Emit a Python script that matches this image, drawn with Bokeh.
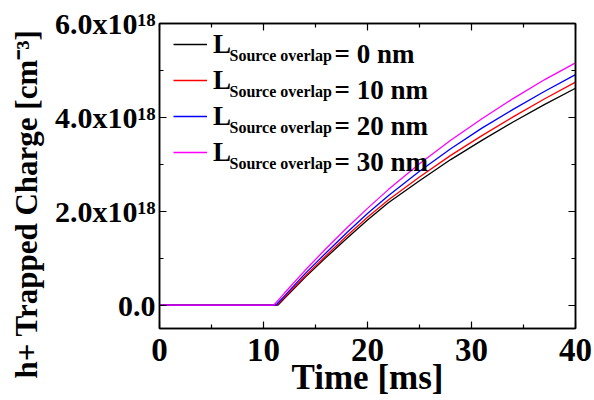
from bokeh.plotting import figure
from bokeh.models import (Range1d, LinearAxis, FixedTicker, Label, Legend,
                          LegendItem, CustomJSTickFormatter, Title)
from bokeh.embed import file_html
from bokeh.resources import INLINE

# Time axis [ms] shared by all curves
time_ms = [0, 11.0, 11.2, 11.4, 12, 14, 16, 18, 20, 22, 25, 28, 31, 34, 37, 40]

# Trapped hole charge in units of 1e18 cm^-3
charge_0nm = [0, 0, 0, 0, 0.14, 0.59, 1.01, 1.42, 1.81, 2.18, 2.65, 3.10, 3.51, 3.90, 4.27, 4.62]
charge_10nm = [0, 0, 0, 0.02, 0.16, 0.62, 1.05, 1.47, 1.87, 2.24, 2.73, 3.19, 3.61, 4.01, 4.39, 4.75]
charge_20nm = [0, 0, 0, 0.05, 0.19, 0.67, 1.11, 1.54, 1.95, 2.33, 2.85, 3.33, 3.77, 4.17, 4.55, 4.91]
charge_30nm = [0, 0, 0.05, 0.10, 0.25, 0.74, 1.20, 1.64, 2.06, 2.46, 3.01, 3.51, 3.97, 4.40, 4.80, 5.16]

overlaps = ["0", "10", "20", "30"]
colors = ["black", "red", "blue", "magenta"]

x_ticks = [0, 10, 20, 30, 40]
x_minor = [5, 15, 25, 35]
y_ticks = [0, 2, 4, 6]
y_minor = [1, 3, 5]
y_tick_text = ["0.0", "2.0x10\u00b9\u2078", "4.0x10\u00b9\u2078", "6.0x10\u00b9\u2078"]

x_title = "Time [ms]"
y_title = "h+ Trapped Charge [cm\u207b\u00b3]"

FONT = "Liberation Serif"

p = figure(frame_width=416, frame_height=305,
           min_border_left=159, min_border_right=19,
           min_border_top=23, min_border_bottom=72,
           x_range=Range1d(0, 40), y_range=Range1d(-0.5, 6.0),
           output_backend="svg", toolbar_location=None,
           x_axis_location=None, y_axis_location=None)
p.background_fill_color = "white"
p.border_fill_color = "white"
p.xgrid.visible = False
p.ygrid.visible = False
p.outline_line_color = "black"
p.outline_line_width = 1.5


def make_axis(ticks, minor):
    ax = LinearAxis(ticker=FixedTicker(ticks=ticks, minor_ticks=minor))
    ax.axis_line_color = "black"
    ax.axis_line_width = 1.5
    ax.major_tick_in = 7
    ax.major_tick_out = 0
    ax.minor_tick_in = 4
    ax.minor_tick_out = 0
    ax.major_tick_line_width = 1.2
    ax.minor_tick_line_width = 1.2
    ax.major_label_text_font = FONT
    ax.major_label_text_font_style = "bold"
    ax.major_label_text_color = "black"
    ax.axis_label_text_font = FONT
    ax.axis_label_text_font_style = "bold"
    ax.axis_label_text_color = "black"
    return ax


def bare_axis(ticks, minor):
    ax = make_axis(ticks, minor)
    ax.formatter = CustomJSTickFormatter(code="return ''")
    ax.major_label_standoff = 0
    return ax


xaxis = make_axis(x_ticks, x_minor)
xaxis.major_label_text_font_size = "33px"
xaxis.major_label_standoff = 10
xaxis.axis_label = x_title
xaxis.axis_label_text_font_size = "35px"
xaxis.axis_label_standoff = -6
p.add_layout(xaxis, "below")

yaxis = make_axis(y_ticks, y_minor)
yaxis.major_label_text_font_size = "30px"
yaxis.major_label_standoff = 4
yaxis.major_label_overrides = {t: s for t, s in zip(y_ticks, y_tick_text)}
p.add_layout(yaxis, "left")

# vertical title, started a little below the frame's bottom edge
p.add_layout(Title(text=y_title, align="left", offset=-50, standoff=14,
                   text_font=FONT, text_font_style="bold",
                   text_font_size="31px", text_color="black",
                   vertical_align="top"), "left")

p.add_layout(bare_axis(x_ticks, x_minor), "above")
p.add_layout(bare_axis(y_ticks, y_minor), "right")

series = [charge_0nm, charge_10nm, charge_20nm, charge_30nm]
renderers = []
for vals, col in zip(series, colors):
    r = p.line(time_ms, vals, line_color=col, line_width=1.3)
    renderers.append(r)

# Legend: swatch + "L"; subscript and value are added as separate labels
items = [LegendItem(label="L", renderers=[r]) for r in renderers]
legend = Legend(items=items, location=(14, 158), padding=0, margin=0,
                spacing=0, glyph_width=34, glyph_height=36, label_height=36,
                label_standoff=6, border_line_color=None,
                background_fill_alpha=0,
                label_text_font=FONT, label_text_font_style="bold",
                label_text_font_size="27px", label_text_color="black")
p.add_layout(legend, "center")

row_pitch = 36
for i, ov in enumerate(overlaps):
    p.add_layout(Label(x=0, y=6.0, x_offset=70, y_offset=-32 - i * row_pitch,
                       text="Source overlap", text_font=FONT,
                       text_font_style="bold", text_font_size="16px",
                       text_baseline="alphabetic", text_align="left",
                       text_color="black"))
    p.add_layout(Label(x=0, y=6.0, x_offset=175, y_offset=-30 - i * row_pitch,
                       text="= " + ov + " nm", text_font=FONT,
                       text_font_style="bold", text_font_size="27px",
                       text_baseline="alphabetic", text_align="left",
                       text_color="black"))

open("out.html", "w").write(file_html(p, INLINE))
